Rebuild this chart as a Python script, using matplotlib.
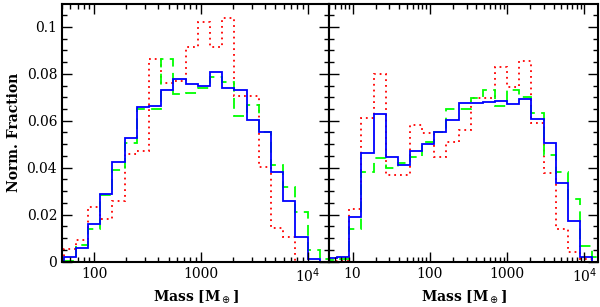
import numpy as np
import matplotlib.pyplot as plt
from matplotlib.ticker import MultipleLocator, LogLocator, FixedFormatter, FixedLocator

# bin widths in dex
w_left = 4 / 35.0
w_right = 11 / 70.0

# left panel: bins k = -20 .. 1 around 1e4
k_left = np.arange(-20, 3)
edges_left = 10 ** (4 + w_left * k_left)
blue_left = [0.002, 0.0058, 0.0159, 0.0287, 0.0424, 0.0526, 0.0658, 0.0663, 0.0729, 0.0779, 0.0755,
             0.0749, 0.0806, 0.0739, 0.0732, 0.0603, 0.0553, 0.0383, 0.0260, 0.0104, 0.001, 0.0]
green_left = [0.0005, 0.007, 0.014, 0.0285, 0.0392, 0.0505, 0.0649, 0.0651, 0.0863, 0.0712, 0.0717,
              0.0738, 0.0787, 0.0763, 0.0621, 0.0666, 0.0553, 0.041, 0.0317, 0.021, 0.005, 0.001]
red_left = [0.0053, 0.0092, 0.0233, 0.0183, 0.026, 0.0458, 0.0471, 0.0864, 0.0759, 0.077, 0.0915,
            0.1021, 0.0915, 0.1036, 0.0706, 0.0706, 0.0404, 0.0145, 0.0104, 0.0, 0.0, 0.0]

# right panel: bins k = -15 .. 7 around 1e3
k_right = np.arange(-15, 9)
edges_right = 10 ** (3 + w_right * k_right)
blue_right = [0.0014, 0.0021, 0.0189, 0.0461, 0.063, 0.0444, 0.0411, 0.047, 0.05, 0.0552, 0.0602, 0.0674,
              0.0674, 0.068, 0.0683, 0.0672, 0.0691, 0.0607, 0.0506, 0.0335, 0.0174, 0.0021, 0.0]
green_right = [0.0009, 0.001, 0.014, 0.0382, 0.0443, 0.04, 0.042, 0.0447, 0.051, 0.0552, 0.065, 0.065,
               0.0695, 0.0731, 0.0663, 0.0731, 0.07, 0.0631, 0.0454, 0.038, 0.0266, 0.0067, 0.002]
red_right = [0.0, 0.0005, 0.0226, 0.061, 0.08, 0.037, 0.037, 0.058, 0.0548, 0.0447, 0.0508, 0.056,
             0.0695, 0.0695, 0.083, 0.0742, 0.0854, 0.0589, 0.0376, 0.014, 0.0043, 0.001, 0.0]

plt.rcParams['font.family'] = 'DejaVu Serif'

fig = plt.figure(figsize=(6.0, 3.07), dpi=100)
W, H = 600.0, 307.0
ax1 = fig.add_axes([62 / W, (H - 261.7) / H, (329.3 - 62) / W, (261.7 - 4) / H])
ax2 = fig.add_axes([329.3 / W, (H - 261.7) / H, (598 - 329.3) / W, (261.7 - 4) / H])

for ax, edges, b, g, r in [(ax1, edges_left, blue_left, green_left, red_left),
                           (ax2, edges_right, blue_right, green_right, red_right)]:
    ax.stairs(r, edges, color='#ff0000', lw=1.3, ls=(0, (1, 2.2)))
    ax.stairs(g, edges, color='#00ff00', lw=1.3, ls=(0, (6, 3.5)))
    ax.stairs(b, edges, color='#0000ff', lw=1.3)
    ax.set_xscale('log')
    ax.set_ylim(0, 0.1097)
    ax.yaxis.set_major_locator(MultipleLocator(0.02))
    ax.yaxis.set_minor_locator(MultipleLocator(0.005))
    ax.xaxis.set_minor_locator(LogLocator(base=10, subs=np.arange(2, 10), numticks=20))
    ax.tick_params(which='both', direction='in', top=True, right=True, width=1.0, labelsize=10)
    ax.tick_params(which='major', length=7)
    ax.tick_params(which='minor', length=3.5)
    for s in ax.spines.values():
        s.set_linewidth(1.5)
    ax.set_xlabel(r'Mass [M$_\oplus$]', fontsize=10, fontweight='bold', labelpad=2)

ax1.set_xlim(50, 1.6e4)
ax2.set_xlim(5, 1.5e4)

ax1.xaxis.set_major_locator(FixedLocator([100, 1000, 1e4]))
ax1.xaxis.set_major_formatter(FixedFormatter(['100', '1000', r'10$^4$']))
ax2.xaxis.set_major_locator(FixedLocator([10, 100, 1000, 1e4]))
ax2.xaxis.set_major_formatter(FixedFormatter(['10', '100', '1000', r'10$^4$']))

ax1.set_yticks([0, 0.02, 0.04, 0.06, 0.08, 0.1])
ax1.set_yticklabels(['0', '0.02', '0.04', '0.06', '0.08', '0.1'])
ax2.tick_params(labelleft=False)
ax1.set_ylabel('Norm. Fraction', fontsize=10, fontweight='bold')

fig.savefig('out.png', dpi=100)
